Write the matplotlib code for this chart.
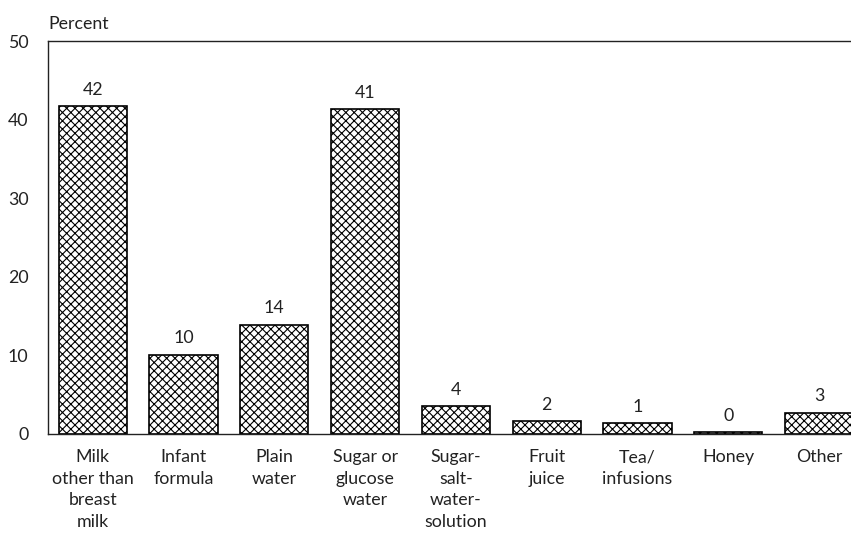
import matplotlib
matplotlib.use("Agg")
import matplotlib.pyplot as plt
import numpy as np

categories = ["Milk\nother than\nbreast\nmilk", "Infant\nformula", "Plain\nwater",
              "Sugar or\nglucose\nwater", "Sugar-\nsalt-\nwater-\nsolution", "Fruit\njuice",
              "Tea/\ninfusions", "Honey", "Other"]
values = [41.7, 10.1, 13.9, 41.3, 3.5, 1.6, 1.4, 0.2, 2.7]
value_labels = ["42", "10", "14", "41", "4", "2", "1", "0", "3"]
yticks = [0, 10, 20, 30, 40, 50]

plt.rcParams['font.family'] = ['Lato', 'DejaVu Sans']
plt.rcParams['hatch.linewidth'] = 0.8
plt.rcParams['hatch.color'] = '#222222'

FS = 12.8
TXT = '#222222'

fig = plt.figure(figsize=(8.51, 5.34), dpi=100)
ax = fig.add_axes([48/851, (534-434)/534, 1 - 48/851, (434-41)/534])

x = np.arange(len(categories))
bars = ax.bar(x, values, width=0.75, color='white', edgecolor='black',
              linewidth=1.2, hatch='xxxx')

for xi, v, lab in zip(x, values, value_labels):
    ax.annotate(lab, (xi, v), xytext=(0, 6), textcoords='offset points',
                ha='center', va='bottom', fontsize=FS, color=TXT)

ax.set_xlim(-0.492, 8.351)
ax.set_ylim(0, 50)
ax.set_yticks(yticks)
ax.set_yticklabels([str(t) for t in yticks], fontsize=FS, color=TXT)
ax.set_xticks(x)
ax.set_xticklabels(categories, fontsize=FS, color=TXT, linespacing=1.42)
ax.tick_params(axis='y', length=0, pad=14)
ax.tick_params(axis='x', length=0, pad=11)

for s in ['left', 'top', 'bottom']:
    ax.spines[s].set_linewidth(1.0)
    ax.spines[s].set_color('#222222')
ax.spines['right'].set_visible(False)

fig.text(48/851, 1 - 24/534, "Percent", ha='left', va='center',
         fontsize=FS, color=TXT)

fig.savefig("out.png", dpi=100)
